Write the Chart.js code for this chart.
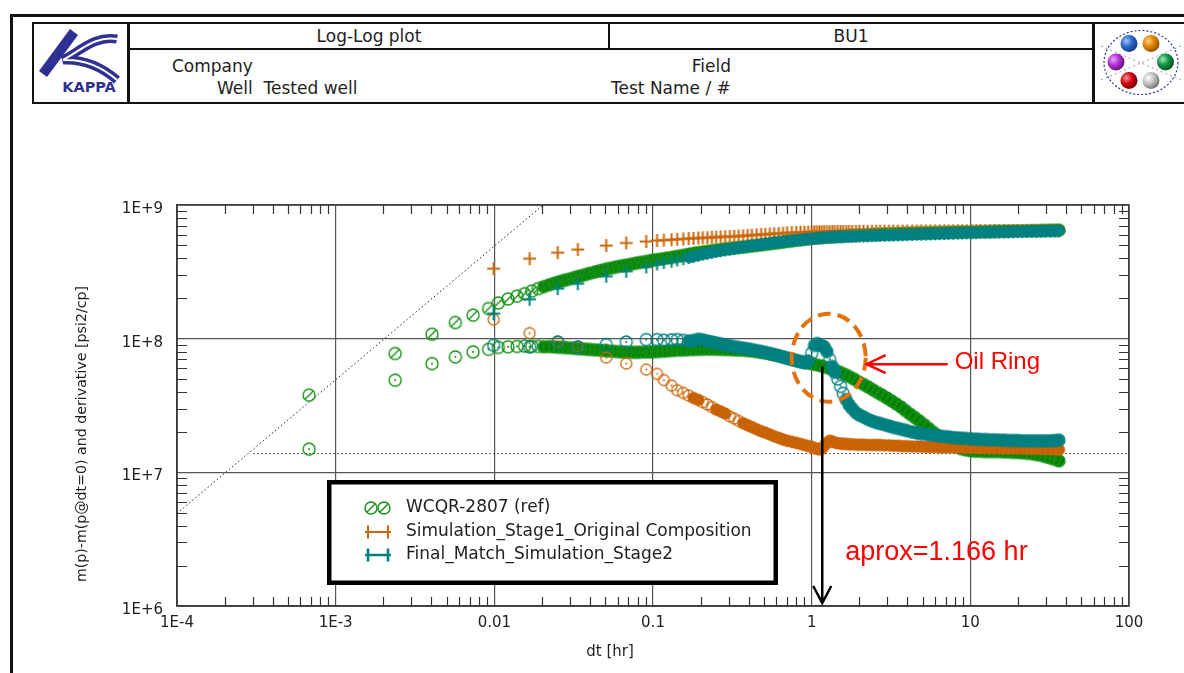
<!DOCTYPE html>
<html>
<head>
<meta charset="utf-8">
<title>Log-Log plot</title>
<script src="https://cdn.jsdelivr.net/npm/chart.js@4.4.1/dist/chart.umd.min.js"></script>
<style>
  html, body { margin: 0; padding: 0; background: #fff; }
  #page { position: relative; width: 1184px; height: 673px; overflow: hidden; background: #fff;
          font-family: "DejaVu Sans", sans-serif; color: #1e1e1e; }
  .ln { position: absolute; background: #111; }
  .t { position: absolute; font-size: 17px; line-height: 20px; white-space: pre; }
  #chart { position: absolute; left: 0; top: 0; }
</style>
</head>
<body>
<div id="page">
  <!-- outer frame -->
  <div class="ln" style="left:10px;top:14px;width:1174px;height:3px"></div>
  <div class="ln" style="left:10px;top:14px;width:3px;height:659px"></div>

  <!-- title block -->
  <div class="ln" style="left:32px;top:22px;width:1152px;height:2px"></div>
  <div class="ln" style="left:32px;top:102px;width:1152px;height:2px"></div>
  <div class="ln" style="left:32px;top:22px;width:2px;height:82px"></div>
  <div class="ln" style="left:127px;top:22px;width:3px;height:82px"></div>
  <div class="ln" style="left:127px;top:48px;width:966px;height:2px"></div>
  <div class="ln" style="left:608px;top:22px;width:2px;height:27px"></div>
  <div class="ln" style="left:1092px;top:22px;width:3px;height:82px"></div>

  <div class="t" style="left:130px;width:478px;top:26px;text-align:center">Log-Log plot</div>
  <div class="t" style="left:610px;width:482px;top:26px;text-align:center">BU1</div>
  <div class="t" style="left:172px;top:56px">Company</div>
  <div class="t" style="left:217px;top:78px">Well  Tested well</div>
  <div class="t" style="left:560px;width:171px;top:56px;text-align:right">Field</div>
  <div class="t" style="left:611px;top:78px">Test Name / #</div>

  <!-- company logo -->
  <svg style="position:absolute;left:34px;top:24px" width="93" height="78" viewBox="0 0 93 78">
    <path d="M9 50 L40 8" stroke="#2e3192" stroke-width="10" fill="none"/>
    <path d="M83 15 C62 11 46 27 29 36 C50 35 67 42 83 56" fill="none" stroke="#2e3192" stroke-width="9"/>
    <path d="M83 15 C62 11 46 27 29 36 C50 35 67 42 83 56" fill="none" stroke="#fff" stroke-width="2"/>
    <text x="55" y="68" text-anchor="middle" font-family="DejaVu Sans" font-weight="bold" font-size="14.5" fill="#2e3192">KAPPA</text>
  </svg>

  <!-- product logo -->
  <svg style="position:absolute;left:1095px;top:24px" width="89" height="78" viewBox="0 0 89 78">
    <defs>
      <radialGradient id="gB" cx="35%" cy="35%" r="70%"><stop offset="0" stop-color="#9cc4ff"/><stop offset="0.5" stop-color="#2a66c8"/><stop offset="1" stop-color="#143a80"/></radialGradient>
      <radialGradient id="gO" cx="35%" cy="35%" r="70%"><stop offset="0" stop-color="#ffd080"/><stop offset="0.5" stop-color="#e08400"/><stop offset="1" stop-color="#8a4a00"/></radialGradient>
      <radialGradient id="gP" cx="35%" cy="35%" r="70%"><stop offset="0" stop-color="#f0a0ff"/><stop offset="0.5" stop-color="#b030d0"/><stop offset="1" stop-color="#601070"/></radialGradient>
      <radialGradient id="gG" cx="35%" cy="35%" r="70%"><stop offset="0" stop-color="#90f0b0"/><stop offset="0.5" stop-color="#109040"/><stop offset="1" stop-color="#045020"/></radialGradient>
      <radialGradient id="gR" cx="35%" cy="35%" r="70%"><stop offset="0" stop-color="#ff9090"/><stop offset="0.5" stop-color="#d00010"/><stop offset="1" stop-color="#700008"/></radialGradient>
      <radialGradient id="gS" cx="35%" cy="35%" r="70%"><stop offset="0" stop-color="#ffffff"/><stop offset="0.5" stop-color="#c0c0c0"/><stop offset="1" stop-color="#707070"/></radialGradient>
    </defs>
    <ellipse cx="46" cy="38.5" rx="37" ry="32" fill="none" stroke="#2a3a80" stroke-width="1.2" stroke-dasharray="2 2"/>
    <path d="M6 22 L86 56 M6 56 L86 22" stroke="#7080b0" stroke-width="0.8" stroke-dasharray="2 3" fill="none"/>
    <circle cx="34" cy="19.5" r="8.5" fill="url(#gB)"/>
    <circle cx="56" cy="19.5" r="8.5" fill="url(#gO)"/>
    <circle cx="21" cy="38" r="8.5" fill="url(#gP)"/>
    <circle cx="70.5" cy="38" r="8.5" fill="url(#gG)"/>
    <circle cx="34" cy="56.5" r="8.5" fill="url(#gR)"/>
    <circle cx="56" cy="56.5" r="8.5" fill="url(#gS)"/>
  </svg>

  <canvas id="chart" width="1184" height="673"></canvas>
</div>

<script>
// ---- test data: elapsed time [hr], delta m(p) and log derivative [psi2/cp] ----
const tRef = [
  0.00068, 0.00237, 0.00405, 0.00568, 0.00735, 0.0092, 0.0106, 0.0122, 0.0139, 0.0155,
  0.0172, 0.0189, 0.0205, 0.0222, 0.0239, 0.0255, 0.0272, 0.0289, 0.031, 0.033,
  0.035, 0.0375, 0.04, 0.043, 0.046, 0.049, 0.052, 0.056, 0.06, 0.064,
  0.068, 0.073, 0.078, 0.083, 0.089, 0.095, 0.1, 0.107, 0.115, 0.123,
  0.132, 0.141, 0.151, 0.162, 0.173, 0.185, 0.198, 0.212, 0.227, 0.243,
  0.26, 0.278, 0.298, 0.319, 0.341, 0.365, 0.39, 0.418, 0.447, 0.478,
  0.512, 0.547, 0.586, 0.627, 0.67, 0.718, 0.768, 0.822, 0.879, 0.941,
  1.0, 1.07, 1.15, 1.23, 1.32, 1.41, 1.51, 1.62, 1.73, 1.85,
  1.98, 2.12, 2.27, 2.43, 2.6, 2.78, 2.98, 3.19, 3.41, 3.65,
  3.9, 4.18, 4.47, 4.78, 5.12, 5.47, 5.86, 6.27, 6.7, 7.18,
  7.68, 8.22, 8.79, 9.41, 10.1, 10.8, 11.5, 12.3, 13.2, 14.1,
  15.1, 16.2, 17.3, 18.5, 19.8, 21.2, 22.7, 24.3, 26, 27.8,
  29.8, 31.9, 34.1, 36.2
];
const pRef = [
  3.78e7, 7.74e7, 1.08e8, 1.32e8, 1.5e8, 1.68e8, 1.85e8, 1.98e8, 2.08e8, 2.17e8,
  2.27e8, 2.37e8, 2.45e8, 2.53e8, 2.6e8, 2.66e8, 2.72e8, 2.77e8, 2.83e8, 2.9e8,
  2.95e8, 3.02e8, 3.08e8, 3.15e8, 3.22e8, 3.28e8, 3.34e8, 3.4e8, 3.46e8, 3.51e8,
  3.55e8, 3.61e8, 3.67e8, 3.72e8, 3.77e8, 3.82e8, 3.86e8, 3.91e8, 3.96e8, 4.01e8,
  4.06e8, 4.12e8, 4.18e8, 4.24e8, 4.3e8, 4.37e8, 4.42e8, 4.47e8, 4.52e8, 4.57e8,
  4.62e8, 4.67e8, 4.72e8, 4.76e8, 4.8e8, 4.84e8, 4.88e8, 4.93e8, 4.98e8, 5.03e8,
  5.08e8, 5.13e8, 5.18e8, 5.24e8, 5.3e8, 5.36e8, 5.42e8, 5.48e8, 5.53e8, 5.59e8,
  5.64e8, 5.68e8, 5.72e8, 5.76e8, 5.8e8, 5.83e8, 5.86e8, 5.89e8, 5.92e8, 5.94e8,
  5.96e8, 5.98e8, 6.0e8, 6.02e8, 6.04e8, 6.06e8, 6.08e8, 6.09e8, 6.11e8, 6.12e8,
  6.14e8, 6.15e8, 6.16e8, 6.18e8, 6.19e8, 6.2e8, 6.21e8, 6.22e8, 6.23e8, 6.24e8,
  6.25e8, 6.26e8, 6.27e8, 6.28e8, 6.29e8, 6.3e8, 6.31e8, 6.32e8, 6.33e8, 6.34e8,
  6.35e8, 6.36e8, 6.37e8, 6.38e8, 6.39e8, 6.4e8, 6.41e8, 6.42e8, 6.43e8, 6.44e8,
  6.45e8, 6.46e8, 6.47e8, 6.48e8
];
const dRef = [
  1.49e7, 4.89e7, 6.51e7, 7.3e7, 7.96e7, 8.33e7, 8.6e7, 8.7e7, 8.75e7, 8.8e7,
  8.78e7, 8.75e7, 8.7e7, 8.72e7, 8.68e7, 8.62e7, 8.6e7, 8.55e7, 8.5e7, 8.45e7,
  8.4e7, 8.35e7, 8.3e7, 8.25e7, 8.2e7, 8.15e7, 8.1e7, 8.05e7, 8.0e7, 7.95e7,
  7.95e7, 7.9e7, 7.9e7, 7.92e7, 7.95e7, 7.95e7, 7.98e7, 8.0e7, 8.05e7, 8.1e7,
  8.15e7, 8.2e7, 8.2e7, 8.25e7, 8.28e7, 8.3e7, 8.32e7, 8.35e7, 8.35e7, 8.35e7,
  8.33e7, 8.3e7, 8.28e7, 8.25e7, 8.22e7, 8.2e7, 8.15e7, 8.08e7, 8.0e7, 7.9e7,
  7.8e7, 7.68e7, 7.55e7, 7.4e7, 7.25e7, 7.1e7, 6.95e7, 6.82e7, 6.7e7, 6.6e7,
  6.5e7, 6.38e7, 6.25e7, 6.1e7, 5.95e7, 5.78e7, 5.6e7, 5.4e7, 5.2e7, 4.98e7,
  4.75e7, 4.55e7, 4.35e7, 4.15e7, 3.95e7, 3.78e7, 3.6e7, 3.42e7, 3.25e7, 3.08e7,
  2.9e7, 2.72e7, 2.57e7, 2.42e7, 2.27e7, 2.13e7, 1.99e7, 1.87e7, 1.77e7, 1.68e7,
  1.6e7, 1.55e7, 1.5e7, 1.47e7, 1.45e7, 1.44e7, 1.44e7, 1.43e7, 1.43e7, 1.43e7,
  1.43e7, 1.42e7, 1.42e7, 1.41e7, 1.41e7, 1.4e7, 1.39e7, 1.38e7, 1.36e7, 1.34e7,
  1.31e7, 1.28e7, 1.25e7, 1.22e7
];

// simulation output times, shared by both simulation runs
const tSim = [
  0.0099, 0.0167, 0.0251, 0.0336, 0.0507, 0.0678, 0.0906, 0.106, 0.117, 0.131,
  0.142, 0.155, 0.168, 0.18, 0.193, 0.206, 0.22, 0.235, 0.25, 0.267,
  0.285, 0.305, 0.325, 0.347, 0.37, 0.395, 0.42, 0.45, 0.48, 0.51,
  0.545, 0.58, 0.62, 0.66, 0.7, 0.75, 0.8, 0.85, 0.9, 0.95,
  1.0, 1.04, 1.08, 1.12, 1.16, 1.2, 1.25, 1.3, 1.35, 1.4,
  1.46, 1.52, 1.58, 1.65, 1.72, 1.8, 1.9, 2.0, 2.12, 2.25,
  2.4, 2.55, 2.7, 2.88, 3.07, 3.27, 3.5, 3.75, 4.0, 4.3,
  4.6, 4.9, 5.25, 5.6, 6.0, 6.4, 6.85, 7.3, 7.8, 8.35,
  8.9, 9.5, 10.2, 10.9, 11.6, 12.4, 13.3, 14.2, 15.2, 16.3,
  17.4, 18.6, 19.9, 21.3, 22.8, 24.4, 26.1, 27.9, 29.8, 31.9,
  34.1, 36.2
];
// Stage 1, original composition
const pSim1 = [
  3.34e8, 3.97e8, 4.4e8, 4.64e8, 4.97e8, 5.2e8, 5.33e8, 5.42e8, 5.46e8, 5.5e8,
  5.53e8, 5.57e8, 5.61e8, 5.63e8, 5.66e8, 5.68e8, 5.7e8, 5.73e8, 5.75e8, 5.77e8,
  5.79e8, 5.81e8, 5.83e8, 5.85e8, 5.88e8, 5.92e8, 5.95e8, 5.98e8, 6.01e8, 6.04e8,
  6.07e8, 6.1e8, 6.13e8, 6.16e8, 6.18e8, 6.21e8, 6.23e8, 6.25e8, 6.26e8, 6.27e8,
  6.28e8, 6.29e8, 6.29e8, 6.3e8, 6.3e8, 6.31e8, 6.31e8, 6.32e8, 6.32e8, 6.32e8,
  6.33e8, 6.33e8, 6.33e8, 6.34e8, 6.34e8, 6.34e8, 6.35e8, 6.35e8, 6.35e8, 6.36e8,
  6.36e8, 6.36e8, 6.37e8, 6.37e8, 6.37e8, 6.38e8, 6.38e8, 6.38e8, 6.39e8, 6.39e8,
  6.39e8, 6.4e8, 6.4e8, 6.4e8, 6.41e8, 6.41e8, 6.41e8, 6.41e8, 6.42e8, 6.42e8,
  6.42e8, 6.42e8, 6.42e8, 6.43e8, 6.43e8, 6.43e8, 6.43e8, 6.44e8, 6.44e8, 6.44e8,
  6.44e8, 6.44e8, 6.45e8, 6.45e8, 6.45e8, 6.45e8, 6.45e8, 6.46e8, 6.46e8, 6.46e8,
  6.46e8, 6.46e8
];
const dSim1 = [
  1.39e8, 1.1e8, 9.45e7, 8.67e7, 7.22e7, 6.51e7, 5.87e7, 5.45e7, 4.9e7, 4.45e7,
  4.11e7, 3.93e7, 3.75e7, 3.6e7, 3.48e7, 3.35e7, 3.22e7, 3.08e7, 2.95e7, 2.85e7,
  2.75e7, 2.62e7, 2.52e7, 2.42e7, 2.33e7, 2.25e7, 2.18e7, 2.1e7, 2.03e7, 1.98e7,
  1.92e7, 1.86e7, 1.81e7, 1.76e7, 1.72e7, 1.69e7, 1.66e7, 1.63e7, 1.6e7, 1.57e7,
  1.55e7, 1.52e7, 1.5e7, 1.48e7, 1.5e7, 1.58e7, 1.66e7, 1.72e7, 1.7e7, 1.67e7,
  1.65e7, 1.64e7, 1.63e7, 1.63e7, 1.62e7, 1.62e7, 1.61e7, 1.61e7, 1.61e7, 1.6e7,
  1.6e7, 1.6e7, 1.6e7, 1.59e7, 1.59e7, 1.58e7, 1.58e7, 1.57e7, 1.57e7, 1.56e7,
  1.56e7, 1.56e7, 1.55e7, 1.55e7, 1.55e7, 1.54e7, 1.54e7, 1.54e7, 1.54e7, 1.53e7,
  1.53e7, 1.53e7, 1.53e7, 1.53e7, 1.52e7, 1.52e7, 1.52e7, 1.52e7, 1.52e7, 1.51e7,
  1.51e7, 1.51e7, 1.51e7, 1.51e7, 1.5e7, 1.5e7, 1.5e7, 1.5e7, 1.49e7, 1.49e7,
  1.48e7, 1.48e7
];
// Stage 2, final match
const pSim2 = [
  1.54e8, 1.97e8, 2.37e8, 2.58e8, 2.93e8, 3.19e8, 3.44e8, 3.62e8, 3.72e8, 3.8e8,
  3.88e8, 3.96e8, 4.04e8, 4.12e8, 4.2e8, 4.28e8, 4.35e8, 4.42e8, 4.49e8, 4.55e8,
  4.61e8, 4.67e8, 4.73e8, 4.79e8, 4.85e8, 4.91e8, 4.97e8, 5.02e8, 5.07e8, 5.12e8,
  5.17e8, 5.22e8, 5.27e8, 5.31e8, 5.35e8, 5.4e8, 5.44e8, 5.48e8, 5.52e8, 5.56e8,
  5.6e8, 5.62e8, 5.64e8, 5.66e8, 5.68e8, 5.7e8, 5.72e8, 5.74e8, 5.75e8, 5.76e8,
  5.77e8, 5.78e8, 5.79e8, 5.8e8, 5.81e8, 5.82e8, 5.83e8, 5.85e8, 5.86e8, 5.87e8,
  5.89e8, 5.9e8, 5.92e8, 5.93e8, 5.94e8, 5.96e8, 5.97e8, 5.98e8, 6.0e8, 6.01e8,
  6.03e8, 6.04e8, 6.06e8, 6.07e8, 6.09e8, 6.1e8, 6.12e8, 6.14e8, 6.15e8, 6.17e8,
  6.18e8, 6.2e8, 6.21e8, 6.22e8, 6.24e8, 6.25e8, 6.26e8, 6.27e8, 6.28e8, 6.29e8,
  6.3e8, 6.31e8, 6.32e8, 6.33e8, 6.34e8, 6.35e8, 6.36e8, 6.37e8, 6.38e8, 6.39e8,
  6.4e8, 6.41e8
];
const dSim2 = [
  8.93e7, 8.67e7, 9.45e7, 8.67e7, 9.03e7, 9.45e7, 9.84e7, 9.84e7, 9.73e7, 9.8e7,
  9.84e7, 9.7e7, 9.6e7, 9.7e7, 9.9e7, 9.8e7, 9.6e7, 9.45e7, 9.3e7, 9.15e7,
  9.0e7, 8.85e7, 8.72e7, 8.6e7, 8.5e7, 8.4e7, 8.28e7, 8.15e7, 8.02e7, 7.9e7,
  7.75e7, 7.6e7, 7.45e7, 7.3e7, 7.15e7, 7.0e7, 6.85e7, 6.7e7, 6.6e7, 6.8e7,
  7.8e7, 8.9e7, 9.2e7, 9.0e7, 8.8e7, 8.7e7, 8.0e7, 7.0e7, 6.2e7, 5.6e7,
  5.0e7, 4.4e7, 3.9e7, 3.5e7, 3.2e7, 3.0e7, 2.8e7, 2.68e7, 2.6e7, 2.5e7,
  2.42e7, 2.36e7, 2.32e7, 2.27e7, 2.22e7, 2.17e7, 2.13e7, 2.09e7, 2.05e7, 2.0e7,
  1.97e7, 1.95e7, 1.93e7, 1.91e7, 1.89e7, 1.87e7, 1.85e7, 1.84e7, 1.82e7, 1.81e7,
  1.8e7, 1.79e7, 1.78e7, 1.77e7, 1.76e7, 1.76e7, 1.75e7, 1.75e7, 1.74e7, 1.74e7,
  1.73e7, 1.73e7, 1.73e7, 1.72e7, 1.72e7, 1.72e7, 1.72e7, 1.72e7, 1.72e7, 1.72e7,
  1.73e7, 1.74e7
];

// diagnostic straight lines: unit slope (wellbore storage) and radial flow stabilisation
const unitSlopeT = [1e-4, 0.0203];
const unitSlopeV = [4.93e6, 1e9];
const iarfT = [3.03e-4, 100];
const iarfV = [1.38e7, 1.38e7];

const xTickVals = [1e-4, 1e-3, 0.01, 0.1, 1, 10, 100];
const xTickLabels = ['1E-4', '1E-3', '0.01', '0.1', '1', '10', '100'];
const yTickVals = [1e6, 1e7, 1e8, 1e9];
const yTickLabels = ['1E+6', '1E+7', '1E+8', '1E+9'];

const xTitle = 'dt [hr]';
const yTitle = 'm(p)-m(p@dt=0) and derivative [psi2/cp]';
const seriesNames = ['WCQR-2807 (ref)', 'Simulation_Stage1_Original Composition', 'Final_Match_Simulation_Stage2'];
const oilRingTime = 1.166;   // hr
const oilRingLabel = 'Oil Ring';
const oilRingNote = 'aprox=1.166 hr';

// ---- marker glyphs ----
const GREEN = 'rgb(22,145,22)';
const ORANGE = 'rgb(204,102,8)';
const TEAL = 'rgb(0,128,128)';
const GREEN_BAND = 'rgb(0,128,0)';
const ORANGE_BAND = 'rgb(196,98,4)';
const TEAL_BAND = 'rgb(0,128,128)';

function ringMarker(color, r, lw, mark) {
  const s = Math.ceil(2 * r + lw + 2);
  const c = document.createElement('canvas');
  c.width = s; c.height = s;
  const g = c.getContext('2d');
  const m = s / 2;
  g.strokeStyle = color; g.lineWidth = lw;
  g.beginPath(); g.arc(m, m, r, 0, Math.PI * 2); g.stroke();
  if (mark === 'slash') {
    const d = r * 0.62;
    g.beginPath(); g.moveTo(m + d, m - d); g.lineTo(m - d, m + d); g.stroke();
  } else if (mark === 'dot') {
    g.fillStyle = color; g.fillRect(m - 0.9, m - 0.9, 1.8, 1.8);
  }
  return c;
}
function plusMarker(color, half, lw) {
  const s = Math.ceil(2 * half + 2);
  const c = document.createElement('canvas');
  c.width = s; c.height = s;
  const g = c.getContext('2d');
  const m = s / 2;
  g.strokeStyle = color; g.lineWidth = lw;
  g.beginPath();
  g.moveTo(m - half, m); g.lineTo(m + half, m);
  g.moveTo(m, m - half); g.lineTo(m, m + half);
  g.stroke();
  return c;
}

const mkRefP = ringMarker(GREEN, 6, 1.4, 'slash');
const mkRefD = ringMarker(GREEN, 6, 1.4, 'dot');
const mkS1P = plusMarker(ORANGE, 6.5, 2);
const mkS1D = ringMarker(ORANGE, 5.5, 1.3, 'dot');
const mkS2P = plusMarker(TEAL, 6.5, 2);
const mkS2D = ringMarker(TEAL, 6, 1.3, 'dot');

const pts = (ts, vs) => ts.map((t, i) => ({ x: t, y: vs[i] }));

// Where consecutive samples sit only a few pixels apart the markers merge
// into a continuous band; that band is traced along the same points.
function markerSet(label, data, marker, order, band, maxDy = 6) {
  const ds = { label, data, pointStyle: marker, pointRadius: 6, pointHoverRadius: 6,
               order, backgroundColor: 'transparent', showLine: false };
  if (band) {
    Object.assign(ds, {
      showLine: true, borderWidth: 11, borderColor: band, tension: 0,
      borderCapStyle: 'round', borderJoinStyle: 'round',
      segment: {
        borderColor: c => (Math.abs(c.p1.x - c.p0.x) < 5.5 && Math.abs(c.p1.y - c.p0.y) < maxDy
                           ? band : 'rgba(0,0,0,0)')
      }
    });
  }
  return ds;
}
function refLine(data) {
  return { data, showLine: true, pointRadius: 0, borderColor: '#222', borderWidth: 1,
           borderDash: [1.5, 2.5], order: 9, fill: false };
}

// ---- frame, minor ticks, titles, legend and notes ----
const decorations = {
  id: 'decorations',
  beforeDatasetsDraw(chart) {
    const { ctx, chartArea: a, scales: { x, y } } = chart;
    ctx.save();
    ctx.strokeStyle = '#333';
    ctx.lineWidth = 1.2;
    ctx.beginPath();
    for (let d = -4; d < 2; d++) {
      for (let k = 2; k <= 9; k++) {
        const px = Math.round(x.getPixelForValue(k * Math.pow(10, d))) + 0.5;
        ctx.moveTo(px, a.top); ctx.lineTo(px, a.top + 9);
        ctx.moveTo(px, a.bottom); ctx.lineTo(px, a.bottom - 9);
      }
    }
    for (let d = 6; d < 9; d++) {
      for (let k = 2; k <= 9; k++) {
        const py = Math.round(y.getPixelForValue(k * Math.pow(10, d))) + 0.5;
        ctx.moveTo(a.left, py); ctx.lineTo(a.left + 10, py);
        ctx.moveTo(a.right, py); ctx.lineTo(a.right - 10, py);
      }
    }
    ctx.stroke();
    ctx.strokeStyle = '#3a3a3a';
    ctx.lineWidth = 1.5;
    ctx.strokeRect(a.left, a.top, a.right - a.left, a.bottom - a.top);

    // axis titles
    ctx.fillStyle = '#1e1e1e';
    ctx.font = '15px "DejaVu Sans"';
    ctx.textAlign = 'center';
    ctx.textBaseline = 'middle';
    ctx.fillText(xTitle, 610, 652);
    ctx.translate(82, 434);
    ctx.rotate(-Math.PI / 2);
    ctx.font = '14.2px "DejaVu Sans"';
    ctx.fillText(yTitle, 0, 0);
    ctx.restore();
  },
  afterDatasetsDraw(chart) {
    const { ctx, chartArea: a, scales: { x, y } } = chart;
    ctx.save();

    // legend box
    ctx.fillStyle = '#fff';
    ctx.fillRect(329, 482, 447, 101);
    ctx.strokeStyle = '#000';
    ctx.lineWidth = 4.5;
    ctx.strokeRect(329.25, 482.25, 446.5, 100.5);

    const rows = [508, 532, 555];
    ctx.drawImage(mkRefP, 371 - mkRefP.width / 2, rows[0] - mkRefP.height / 2);
    ctx.drawImage(mkRefP, 384 - mkRefP.width / 2, rows[0] - mkRefP.height / 2);
    [[ORANGE, 2, rows[1]], [TEAL, 2.6, rows[2]]].forEach(([c, w, ry]) => {
      ctx.strokeStyle = c; ctx.lineWidth = w;
      ctx.beginPath();
      ctx.moveTo(365, ry); ctx.lineTo(391, ry);
      ctx.moveTo(368, ry - 6.5); ctx.lineTo(368, ry + 6.5);
      ctx.moveTo(388, ry - 6.5); ctx.lineTo(388, ry + 6.5);
      ctx.stroke();
    });
    ctx.fillStyle = '#1e1e1e';
    ctx.font = '17px "DejaVu Sans"';
    ctx.textBaseline = 'middle';
    ctx.textAlign = 'left';
    seriesNames.forEach((n, i) => ctx.fillText(n, 406, rows[i]));

    // dashed ellipse round the oil ring hump
    const cx = x.getPixelForValue(1.28);
    const cy = y.getPixelForValue(7.2e7);
    ctx.strokeStyle = '#e4700f';
    ctx.lineWidth = 4;
    ctx.setLineDash([13, 7]);
    ctx.beginPath();
    ctx.ellipse(cx, cy, 37, 44, 0, 0, Math.PI * 2);
    ctx.stroke();
    ctx.setLineDash([]);

    // red pointer and label
    const tipX = cx + 38, tipY = cy + 6.5;
    ctx.strokeStyle = '#ff0000';
    ctx.lineWidth = 2.5;
    ctx.beginPath();
    ctx.moveTo(tipX + 81, tipY); ctx.lineTo(tipX, tipY);
    ctx.moveTo(tipX + 19, tipY - 9); ctx.lineTo(tipX, tipY); ctx.lineTo(tipX + 19, tipY + 9);
    ctx.stroke();
    ctx.fillStyle = '#ff0000';
    ctx.font = '24px "Liberation Sans"';
    ctx.fillText(oilRingLabel, tipX + 88, tipY - 2);

    // time marker arrow
    const ax = x.getPixelForValue(oilRingTime);
    const ay0 = y.getPixelForValue(6.2e7);
    const ay1 = a.bottom - 3;
    ctx.strokeStyle = '#000';
    ctx.lineWidth = 2.5;
    ctx.beginPath();
    ctx.moveTo(ax, ay0); ctx.lineTo(ax, ay1);
    ctx.moveTo(ax - 9, ay1 - 17); ctx.lineTo(ax, ay1); ctx.lineTo(ax + 9, ay1 - 17);
    ctx.stroke();
    ctx.fillStyle = '#ff0000';
    ctx.font = '27px "Liberation Sans"';
    ctx.fillText(oilRingNote, ax + 23, y.getPixelForValue(2.5e6));

    ctx.restore();
  }
};

const tickFont = { family: 'DejaVu Sans', size: 15 };

new Chart(document.getElementById('chart'), {
  type: 'scatter',
  data: {
    datasets: [
      markerSet(seriesNames[2], pts(tSim, pSim2), mkS2P, 1, TEAL_BAND),
      markerSet(seriesNames[2], pts(tSim, dSim2), mkS2D, 1, TEAL_BAND),
      markerSet(seriesNames[1], pts(tSim, pSim1), mkS1P, 2, null),
      markerSet(seriesNames[1], pts(tSim, dSim1), mkS1D, 2, ORANGE_BAND, 2.2),
      markerSet(seriesNames[0], pts(tRef, pRef), mkRefP, 3, GREEN_BAND),
      markerSet(seriesNames[0], pts(tRef, dRef), mkRefD, 3, GREEN_BAND),
      refLine(pts(unitSlopeT, unitSlopeV)),
      refLine(pts(iarfT, iarfV))
    ]
  },
  options: {
    responsive: false,
    animation: false,
    devicePixelRatio: 1,
    events: [],
    layout: { padding: { left: 70, top: 205, right: 55, bottom: 0 } },
    plugins: { legend: { display: false }, tooltip: { enabled: false } },
    scales: {
      x: {
        type: 'logarithmic', min: 1e-4, max: 100,
        afterBuildTicks: s => { s.ticks = xTickVals.map(v => ({ value: v })); },
        afterFit: s => { s.height = 67; },
        ticks: { callback: (v, i) => xTickLabels[i], font: tickFont, color: '#1e1e1e',
                 padding: 8, maxRotation: 0, autoSkip: false },
        grid: { color: '#555', lineWidth: 1.2, drawTicks: false },
        border: { display: true, color: '#3a3a3a', width: 1.5 },
        title: { display: false }
      },
      y: {
        type: 'logarithmic', min: 1e6, max: 1e9,
        afterBuildTicks: s => { s.ticks = yTickVals.map(v => ({ value: v })); },
        afterFit: s => { s.width = 107; },
        ticks: { callback: (v, i) => yTickLabels[i], font: tickFont, color: '#1e1e1e',
                 padding: 14, labelOffset: 4, autoSkip: false },
        grid: { color: '#555', lineWidth: 1.2, drawTicks: false },
        border: { display: true, color: '#3a3a3a', width: 1.5 },
        title: { display: false }
      }
    }
  },
  plugins: [decorations]
});
</script>
</body>
</html>
